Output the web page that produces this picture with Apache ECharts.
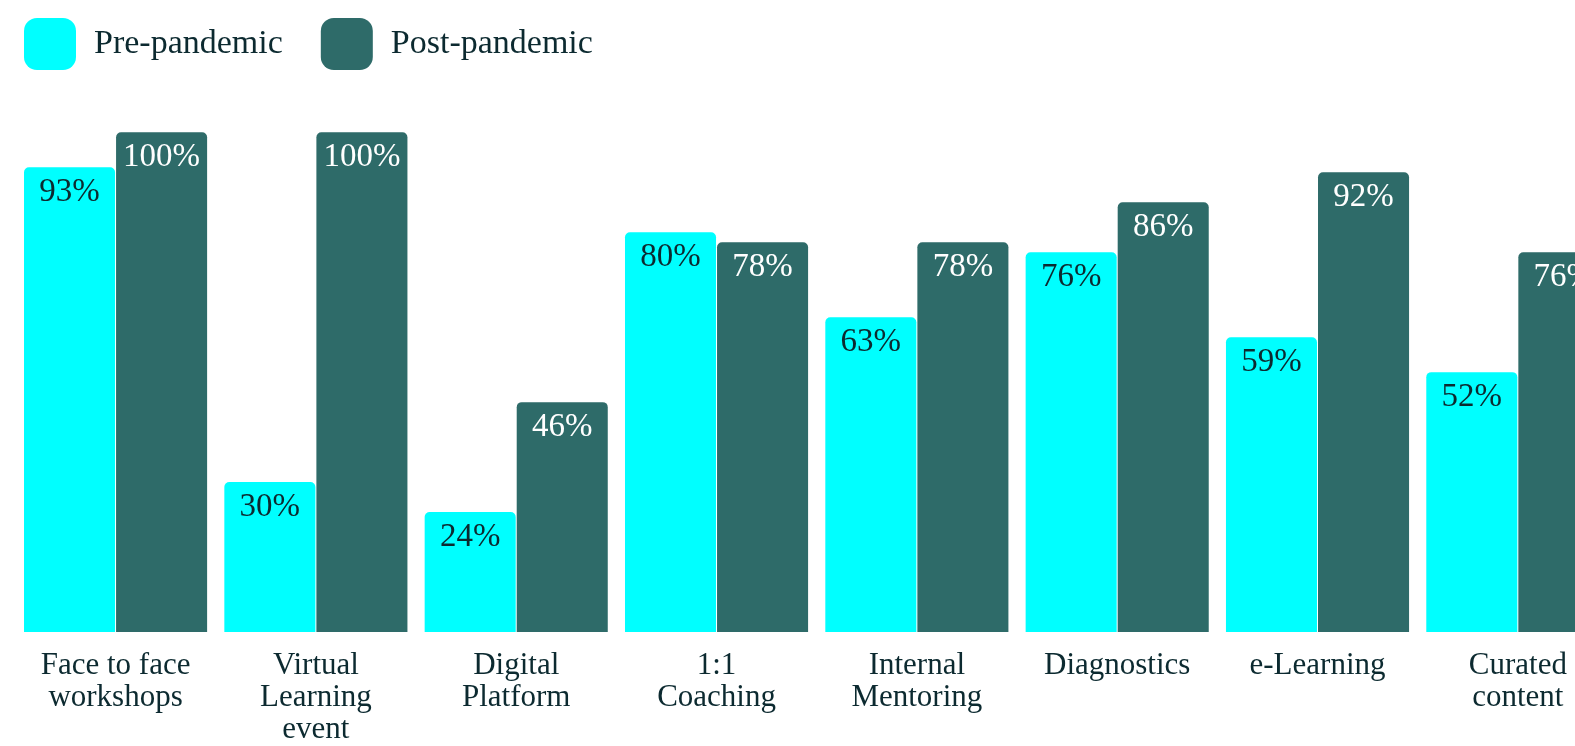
<!DOCTYPE html>
<html>
<head>
<meta charset="utf-8">
<script src="https://cdn.jsdelivr.net/npm/echarts@6/dist/echarts.min.js"></script>
<style>
  html, body { margin: 0; padding: 0; background: #ffffff; overflow: hidden; width: 1575px; height: 746px; }
  #chart { width: 1618px; height: 746px; }
</style>
</head>
<body>
<div id="chart"></div>
<script>
const categories = [
  "Face to face\nworkshops",
  "Virtual\nLearning\nevent",
  "Digital\nPlatform",
  "1:1\nCoaching",
  "Internal\nMentoring",
  "Diagnostics",
  "e-Learning",
  "Curated\ncontent"
];
const seriesNames = ["Pre-pandemic", "Post-pandemic"];
const prePandemic = [93, 30, 24, 80, 63, 76, 59, 52];
const postPandemic = [100, 100, 46, 78, 78, 86, 92, 76];

const FONT = "'Liberation Serif', 'DejaVu Serif', serif";
const TEXT = "#0c2a30";
const CYAN = "#00ffff";
const TEAL = "#2e6b69";

const chart = echarts.init(document.getElementById('chart'));
chart.setOption({
  animation: false,
  backgroundColor: '#ffffff',
  legend: {
    left: 24,
    top: 18,
    padding: 0,
    itemWidth: 52,
    itemHeight: 52,
    itemGap: 38,
    icon: 'roundRect',
    textStyle: { fontFamily: FONT, fontSize: 34, color: TEXT, padding: [0, 0, 0, 13] },
    data: seriesNames
  },
  grid: { left: 15.4, right: 0, top: 132.3, bottom: 108, containLabel: false },
  xAxis: {
    type: 'category',
    data: categories,
    axisLine: { show: false },
    axisTick: { show: false },
    axisLabel: {
      interval: 0,
      margin: 18,
      fontFamily: FONT,
      fontSize: 31,
      lineHeight: 32,
      color: TEXT,
      align: 'center'
    }
  },
  yAxis: {
    type: 'value',
    min: 0,
    max: 100,
    show: false,
    splitLine: { show: false }
  },
  series: [
    {
      name: seriesNames[0],
      type: 'bar',
      data: prePandemic,
      barGap: '1.1%',
      barCategoryGap: '8.6%',
      itemStyle: { color: CYAN, borderRadius: [5, 5, 0, 0] },
      label: {
        show: true,
        position: 'insideTop',
        distance: 9,
        formatter: '{c}%',
        fontFamily: FONT,
        fontSize: 33,
        color: TEXT
      }
    },
    {
      name: seriesNames[1],
      type: 'bar',
      data: postPandemic,
      barGap: '1.1%',
      barCategoryGap: '8.6%',
      itemStyle: { color: TEAL, borderRadius: [5, 5, 0, 0] },
      label: {
        show: true,
        position: 'insideTop',
        distance: 9,
        formatter: '{c}%',
        fontFamily: FONT,
        fontSize: 33,
        color: '#ffffff'
      }
    }
  ]
});
</script>
</body>
</html>
